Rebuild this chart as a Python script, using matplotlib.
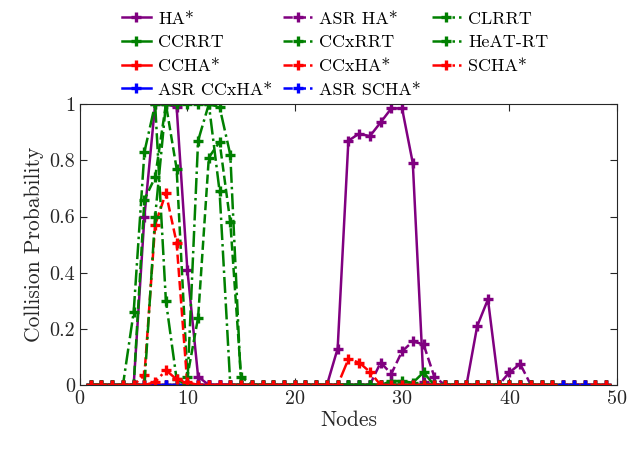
import numpy as np
import matplotlib
matplotlib.use("Agg")
import matplotlib.pyplot as plt

plt.rcParams['font.family'] = ['cmr10', 'DejaVu Serif']
plt.rcParams['mathtext.fontset'] = 'cm'
plt.rcParams['axes.formatter.use_mathtext'] = True
plt.rcParams['axes.unicode_minus'] = False

nan = np.nan
nodes = np.arange(1, 50)

# collision probability per node
ha = [0, 0, 0, 0, 0, 0.60, 1.00, 1.00, 0.99, 0.41, 0.03, 0, 0, 0, 0,
      0, 0, 0, 0, 0, 0, 0, 0, 0.13, 0.87, 0.895, 0.886, 0.935, 0.985, 0.985,
      0.79, 0.01, 0, 0, 0, 0, 0.21, 0.305, 0, 0, 0, 0, 0, 0, 0, 0, 0, 0, 0]
ccrrt = [0] * 28 + [0.014, 0.014, 0.008, 0.045] + [0] * 17
ccha = [0] * 49
asr_ccxha = [0] * 49
asr_ha = ([0] * 27 + [0.08, 0.04, 0.12, 0.155, 0.145, 0.03, 0, 0, 0, 0, 0, 0, 0.045, 0.075]
          + [0] * 8)
ccxrrt = [0, 0, 0, 0, 0, 0.66, 0.74, 1.00, 0.77, 0.03, 0.24, 0.81, 0.866, 0.58, 0.03] + [0] * 34
ccxha = [0, 0, 0, 0, 0, 0.035, 0.57, 0.684, 0.506, 0] + [0] * 39
asr_scha = [0] * 47 + [nan, nan]
clrrt = [0, 0, 0, 0, 0.26, 0.83, 1.00, 0.30, 0.02, 0, 0.87, 1.00, 0.69] + [0] * 31 + [nan] * 5
heat_rt = [0, 0, 0, 0, 0, 0, 0.60, 1.00, 1.00, 1.00, 1.00, 1.00, 0.99, 0.82] + [0] * 30 + [nan] * 5
scha = ([0, 0, 0, 0, 0, 0, 0.01, 0.053, 0.02, 0.01] + [0] * 14 + [0.092, 0.08, 0.047]
        + [0] * 17 + [nan] * 5)

series = [
    ("HA*", ha, 'purple', '-'),
    ("CCRRT", ccrrt, 'green', '-'),
    ("CCHA*", ccha, 'red', '-'),
    ("ASR CCxHA*", asr_ccxha, 'blue', '-'),
    ("ASR HA*", asr_ha, 'purple', '--'),
    ("CCxRRT", ccxrrt, 'green', '--'),
    ("CCxHA*", ccxha, 'red', '--'),
    ("ASR SCHA*", asr_scha, 'blue', '--'),
    ("CLRRT", clrrt, 'green', '-.'),
    ("HeAT-RT", heat_rt, 'green', '-.'),
    ("SCHA*", scha, 'red', '-.'),
]

fig = plt.figure(figsize=(6.3, 4.49), dpi=100)
ax = fig.add_axes([0.127, 0.1425, 0.852, 0.6255])

for name, vals, col, ls in series:
    ax.plot(nodes, vals, color=col, linestyle=ls, linewidth=1.8,
            marker='+', markersize=6.5, markeredgewidth=2.4, label=name)

ax.set_xlim(0, 50)
ax.set_ylim(0, 1)
ax.set_xticks([0, 10, 20, 30, 40, 50])
ax.set_yticks([0, 0.2, 0.4, 0.6, 0.8, 1])
ax.set_yticklabels(['0', '0.2', '0.4', '0.6', '0.8', '1'])
gray = '#262626'
ax.tick_params(direction='in', top=True, right=True, length=5, width=0.8,
               labelsize=14.5, colors=gray)
for s in ax.spines.values():
    s.set_color(gray)
    s.set_linewidth(0.8)
ax.set_xlabel("Nodes", fontsize=15.5, color=gray, labelpad=2)
ax.set_ylabel("Collision Probability", fontsize=15.5, color=gray, labelpad=4)

fig.legend(loc='upper center', bbox_to_anchor=(0.532, 1.012), ncol=3, frameon=False,
           fontsize=13, handlelength=1.6, handletextpad=0.4, columnspacing=0.6,
           labelspacing=0.45)

fig.savefig("out.png", dpi=100)
